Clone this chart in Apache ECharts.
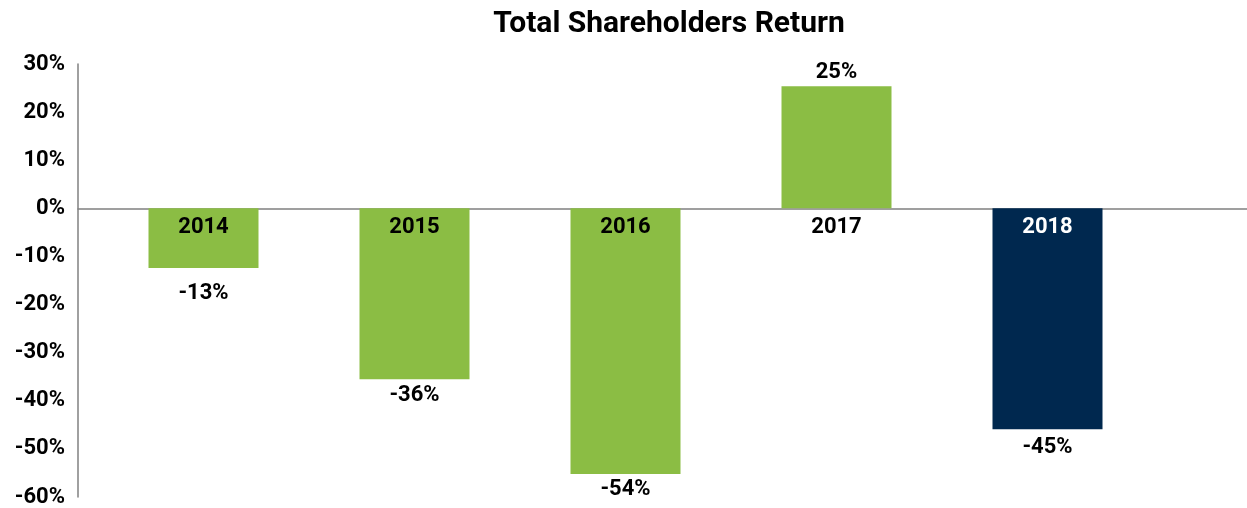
<!DOCTYPE html>
<html>
<head>
<meta charset="utf-8">
<script src="https://cdn.jsdelivr.net/npm/echarts@6/dist/echarts.min.js"></script>
<style>
  html, body { margin: 0; padding: 0; background: #fff; }
  #chart { width: 1247px; height: 508px; }
</style>
</head>
<body>
<div id="chart"></div>
<script>
// 数据
var years = ['2014', '2015', '2016', '2017', '2018'];
var returns = [-12.4, -35.5, -55.2, 25.4, -45.9];
var returnLabels = ['-13%', '-36%', '-54%', '25%', '-45%'];
var yTicks = [-60, 30, 10]; // min, max, interval

var green = '#8BBD44';
var navy = '#00284F';
var font = 'Roboto, "DejaVu Sans", sans-serif';
var labelGap = [15, 5, 5, 3, 7];

// 绘图区高度 508 - 64 - 11，类目标签要挪到 0% 线下方
var plotH = 508 - 64 - 11;
var zeroOffset = -plotH * (0 - yTicks[0]) / (yTicks[1] - yTicks[0]);

var barData = returns.map(function (v, i) {
    var last = i === returns.length - 1;
    return {
        value: v,
        itemStyle: { color: last ? navy : green },
        label: {
            position: v < 0 ? 'bottom' : 'top',
            distance: labelGap[i],
            formatter: returnLabels[i]
        }
    };
});

var option = {
    title: {
        text: 'Total Shareholders Return',
        left: 664,
        textAlign: 'center',
        top: 4,
        textStyle: { fontFamily: font, fontSize: 30, fontWeight: 'bold', color: '#000' }
    },
    // grid 0 放柱子，grid 1 画坐标轴和零线
    grid: [
        { left: 98, right: 94, top: 64, bottom: 11, outerBoundsMode: 'none', containLabel: false },
        { left: 78, right: 0, top: 64, bottom: 11, outerBoundsMode: 'none', containLabel: false }
    ],
    xAxis: [
        {
            gridIndex: 0,
            type: 'category',
            data: years,
            position: 'bottom',
            offset: zeroOffset,
            z: 10,
            axisLine: { show: false, onZero: false },
            axisTick: { show: false },
            axisLabel: {
                margin: 8,
                fontFamily: font,
                fontSize: 22,
                fontWeight: 'bold',
                color: function (val, idx) { return idx === years.length - 1 ? '#fff' : '#000'; }
            }
        },
        {
            gridIndex: 1,
            type: 'value',
            min: 0,
            max: 1,
            axisLine: { show: true, onZero: true, lineStyle: { color: '#808080', width: 1.5 } },
            axisTick: { show: false },
            axisLabel: { show: false },
            splitLine: { show: false }
        }
    ],
    yAxis: [
        {
            gridIndex: 0,
            type: 'value',
            min: yTicks[0],
            max: yTicks[1],
            interval: yTicks[2],
            axisLine: { show: false },
            axisTick: { show: false },
            axisLabel: { show: false },
            splitLine: { show: false }
        },
        {
            gridIndex: 1,
            type: 'value',
            min: yTicks[0],
            max: yTicks[1],
            interval: yTicks[2],
            axisLine: { show: true, lineStyle: { color: '#808080', width: 1.5 } },
            axisTick: { show: false },
            splitLine: { show: false },
            axisLabel: {
                margin: 13,
                fontFamily: font,
                fontSize: 22,
                fontWeight: 'bold',
                color: '#000',
                formatter: '{value}%'
            }
        }
    ],
    series: [
        {
            type: 'bar',
            xAxisIndex: 0,
            yAxisIndex: 0,
            barWidth: 110,
            data: barData,
            label: {
                show: true,
                fontFamily: font,
                fontSize: 22,
                fontWeight: 'bold',
                color: '#000'
            }
        }
    ]
};

var myChart = echarts.init(document.getElementById('chart'));
myChart.setOption(option, true);
</script>
</body>
</html>
